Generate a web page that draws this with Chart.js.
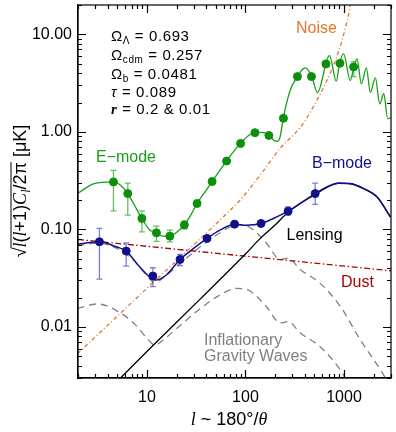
<!DOCTYPE html>
<html>
<head>
<meta charset="utf-8">
<script src="https://cdn.jsdelivr.net/npm/chart.js@4.4.1/dist/chart.umd.min.js"></script>
<style>
  html, body { margin: 0; padding: 0; background: #fff; }
</style>
</head>
<body>
<canvas id="cmb" width="396" height="432"></canvas>
<script>
// Multipolos (l) y amplitudes [uK]
const xMin = 2, xMax = 3000;
const yMin = 0.003, yMax = 20;
const xTickValues = [10, 100, 1000];
const yTickValues = [0.01, 0.1, 1, 10];

// Curva teorica modo E
const eCurveL = [2, 2.91, 4.58, 5.4, 6.41, 7.49, 8.89, 10.65, 12.47, 14.45, 17.15, 20.06, 24.04, 27.86, 32.3, 38.7, 45.9, 55, 64.4, 74.6, 89.4, 106.1, 124.9, 147.2, 173.5, 195.1, 209.4, 224.5, 242.6, 284, 336.9, 403.6, 472.3, 538.5, 619.8, 649.5, 713.7, 835.1, 902, 990.6, 1159, 1264, 1357, 1501, 1687, 1852, 2083, 2304, 2532, 2780, 3032];
const eCurveV = [0.235, 0.295, 0.307, 0.284, 0.233, 0.177, 0.1296, 0.0993, 0.0923, 0.0854, 0.0854, 0.0938, 0.1114, 0.140, 0.1845, 0.2406, 0.3096, 0.404, 0.503, 0.617, 0.763, 0.910, 0.981, 0.988, 0.921, 0.819, 0.800, 0.885, 1.397, 2.656, 3.72, 4.53, 3.69, 2.52, 3.94, 4.98, 6.06, 3.31, 5.05, 6.30, 3.36, 4.71, 5.60, 3.11, 4.53, 2.55, 3.58, 1.94, 2.46, 1.365, 1.417];

// Puntos simulados modo E con barras de error
const ePointsL = [4.58, 6.40, 8.90, 12.5, 17.1, 24.0, 32.3, 45.9, 64.4, 89.3, 125, 173, 243, 337, 468, 656, 910, 1253];
const ePointsV = [0.307, 0.233, 0.1296, 0.0923, 0.0854, 0.1114, 0.1845, 0.310, 0.503, 0.762, 0.982, 0.920, 1.38, 3.69, 3.69, 4.98, 5.05, 4.64];
const eErrLo = [0.155, 0.140, 0.0945, 0.0754, 0.0747, 0.1014, 0.176, 0.297, 0.483, 0.735, 0.95, 0.89, 1.33, 3.55, 3.55, 4.8, 4.85, 3.69];
const eErrHi = [0.404, 0.299, 0.155, 0.108, 0.0984, 0.122, 0.193, 0.323, 0.523, 0.79, 1.015, 0.95, 1.43, 3.83, 3.83, 5.16, 5.25, 5.26];

// Curva modo B (total)
const bCurveL = [1.97, 3.3, 4.88, 6.17, 8.43, 11.09, 12.47, 15.76, 21.68, 28.32, 40.83, 55, 77.6, 102.8, 143.9, 191.9, 270.9, 510, 671, 881, 1159, 1583, 2168, 2962];
const bCurveV = [0.0703, 0.0747, 0.0664, 0.060, 0.0414, 0.0316, 0.0303, 0.0341, 0.0493, 0.0614, 0.0809, 0.0983, 0.1133, 0.1106, 0.1152, 0.1296, 0.1538, 0.2333, 0.2726, 0.2995, 0.2953, 0.2626, 0.2154, 0.1346];

const bPointsL = [3.30, 6.17, 11.5, 21.7, 40.8, 77.6, 144, 271, 510];
const bPointsV = [0.0747, 0.060, 0.0333, 0.0493, 0.0809, 0.1133, 0.1152, 0.1538, 0.233];
const bErrLo = [0.031, 0.042, 0.0259, 0.0425, 0.0775, 0.109, 0.111, 0.140, 0.181];
const bErrHi = [0.1024, 0.073, 0.0405, 0.0555, 0.0845, 0.118, 0.1195, 0.170, 0.299];

// Lensing
const lensL = [4, 5.4, 10, 34.5, 100, 144, 200, 271, 510, 881, 1159, 1583, 2168, 2962];
const lensV = [0.0022, 0.003, 0.0056, 0.0192, 0.056, 0.0824, 0.111, 0.150, 0.228, 0.297, 0.294, 0.262, 0.215, 0.134];

// Ruido
const noiseL = [1.97, 11.7, 57.3, 87.9, 140.6, 224.6, 359, 490, 671, 815, 955, 1159, 1260];
const noiseV = [0.0053, 0.0289, 0.1296, 0.1993, 0.359, 0.678, 1.11, 1.82, 3.36, 5.38, 8.62, 19.8, 35];

// Polvo
const dustL = [2, 3000];
const dustV = [0.079, 0.0377];

// Ondas gravitacionales r = 0.2 y r = 0.01
const gwHighL = [1.97, 3.15, 5.40, 7.67, 10.17, 11.98, 15.5, 21.53, 34.42, 55, 81.3, 111.1, 164.4, 224.5, 270.9, 359.1, 573.7, 917.3, 1466, 2343, 2697];
const gwHighV = [0.0680, 0.0725, 0.0610, 0.046, 0.0330, 0.0286, 0.0335, 0.0445, 0.066, 0.092, 0.1114, 0.1046, 0.0718, 0.0492, 0.0509, 0.0389, 0.0280, 0.01628, 0.00738, 0.00364, 0.00288];
const gwLowL = [1.97, 3.15, 5.40, 7.67, 10.17, 11.98, 15.5, 21.53, 34.42, 55, 81.3, 111.1, 164.4, 224.5, 270.9, 359.1, 573.7, 917.3, 1055];
const gwLowV = [0.01557, 0.01722, 0.01394, 0.01051, 0.00755, 0.00656, 0.00773, 0.01026, 0.01532, 0.02129, 0.02492, 0.02339, 0.01605, 0.01101, 0.01136, 0.00871, 0.00626, 0.00364, 0.00288];

const GREEN = "#17a017";
const GREEN_DARK = "#0c900c";
const NAVY = "#10108a";
const ORANGE = "#e0782c";
const DUSTRED = "#a00808";
const GREY = "#808080";
const FONT = "'Liberation Sans', Arial, sans-serif";

function pairs(xs, ys) {
  return xs.map((x, i) => ({ x: x, y: ys[i] }));
}

function line(data, color, extra) {
  return Object.assign({
    data: data, showLine: true, borderColor: color, borderWidth: 1.3,
    pointRadius: 0, pointHoverRadius: 0, fill: false
  }, extra || {});
}

function fontOf(p) {
  return (p.style || "") + " " + p.size + "px " + (p.family || FONT);
}

// texto con sub-indices, dibujado por piezas
function richText(ctx, parts, x, y, align) {
  const widths = parts.map(p => { ctx.font = fontOf(p); return ctx.measureText(p.t).width; });
  const total = widths.reduce((a, b) => a + b, 0);
  let cx = align === "center" ? x - total / 2 : x;
  const x0 = cx;
  parts.forEach((p, i) => {
    ctx.font = fontOf(p);
    ctx.fillText(p.t, cx, y + (p.dy || 0));
    cx += widths[i];
  });
  return { x0: x0, w: total, widths: widths };
}

function logTicks(min, max) {
  const out = [];
  for (let e = Math.floor(Math.log10(min)); e <= Math.ceil(Math.log10(max)); e++) {
    for (let m = 1; m <= 9; m++) {
      const v = m * Math.pow(10, e);
      if (v >= min * 0.999 && v <= max * 1.001) out.push({ v: v, major: m === 1 });
    }
  }
  return out;
}

// barras de error dibujadas justo antes de sus puntos
const errorBars = {
  id: "errorBars",
  beforeDatasetDraw(chart, args) {
    const ds = chart.data.datasets[args.index];
    if (!ds.errLo) return;
    const { ctx, scales: { x, y } } = chart;
    ctx.save();
    ctx.strokeStyle = ds.errColor;
    ctx.lineWidth = 1.3;
    ds.data.forEach((d, i) => {
      const px = x.getPixelForValue(d.x);
      const top = y.getPixelForValue(ds.errHi[i]);
      const bot = y.getPixelForValue(ds.errLo[i]);
      ctx.beginPath();
      ctx.moveTo(px, top); ctx.lineTo(px, bot);
      ctx.moveTo(px - 3, top); ctx.lineTo(px + 3, top);
      ctx.moveTo(px - 3, bot); ctx.lineTo(px + 3, bot);
      ctx.stroke();
    });
    ctx.restore();
  }
};

// marco con marcas hacia dentro en los cuatro lados, textos y titulos
const frameAndText = {
  id: "frameAndText",
  afterDraw(chart) {
    const { ctx, chartArea: a, scales: { x, y } } = chart;
    ctx.save();
    ctx.strokeStyle = "#000";
    ctx.lineWidth = 1.2;
    ctx.strokeRect(a.left, a.top, a.right - a.left, a.bottom - a.top);
    ctx.beginPath();
    logTicks(xMin, xMax).forEach(t => {
      const px = Math.round(x.getPixelForValue(t.v)) + 0.5;
      const len = t.major ? 8 : 4;
      ctx.moveTo(px, a.bottom); ctx.lineTo(px, a.bottom - len);
      ctx.moveTo(px, a.top); ctx.lineTo(px, a.top + len);
    });
    logTicks(yMin, yMax).forEach(t => {
      const py = Math.round(y.getPixelForValue(t.v)) + 0.5;
      const len = t.major ? 8 : 4;
      ctx.moveTo(a.left, py); ctx.lineTo(a.left + len, py);
      ctx.moveTo(a.right, py); ctx.lineTo(a.right - len, py);
    });
    ctx.stroke();

    // parametros cosmologicos
    ctx.fillStyle = "#000";
    ctx.textBaseline = "alphabetic";
    ctx.letterSpacing = "0.6px";
    const S = 15, s = 10;
    richText(ctx, [{ t: "\u03A9", size: S }, { t: "\u039B", size: s, dy: 3 }, { t: " = 0.693", size: S }], 111, 41, "left");
    richText(ctx, [{ t: "\u03A9", size: S }, { t: "cdm", size: s, dy: 3 }, { t: " = 0.257", size: S }], 111, 60, "left");
    richText(ctx, [{ t: "\u03A9", size: S }, { t: "b", size: s, dy: 3 }, { t: " = 0.0481", size: S }], 111, 78.5, "left");
    richText(ctx, [{ t: "\u03C4", size: S, style: "italic" }, { t: " = 0.089", size: S }], 111, 96.5, "left");
    richText(ctx, [{ t: "r", size: S, style: "italic bold", family: "'Liberation Serif', serif" }, { t: " = 0.2 & 0.01", size: S }], 111, 114, "left");
    ctx.letterSpacing = "0px";

    // etiquetas de curvas
    ctx.textBaseline = "middle";
    ctx.font = "16px " + FONT;
    const lbl = (t, c, cx, cy) => { ctx.fillStyle = c; ctx.textAlign = "center"; ctx.fillText(t, cx, cy); };
    lbl("Noise", ORANGE, 316.5, 29);
    lbl("E\u2212mode", GREEN, 126, 157.5);
    lbl("B\u2212mode", NAVY, 342, 164);
    lbl("Lensing", "#000", 314.5, 235.5);
    lbl("Dust", DUSTRED, 357.5, 283);
    ctx.fillStyle = GREY;
    ctx.textAlign = "left";
    ctx.fillText("Inflationary", 204, 341);
    ctx.fillText("Gravity Waves", 204, 357);

    // titulo eje x
    ctx.fillStyle = "#000";
    ctx.textAlign = "left";
    ctx.textBaseline = "alphabetic";
    richText(ctx, [
      { t: "l", size: 18, style: "italic", family: "'Liberation Serif', serif" },
      { t: " ~ 180\u00B0/", size: 18 },
      { t: "\u03B8", size: 18, style: "italic", family: "'Liberation Serif', serif" }
    ], 229, 425, "center");

    // titulo eje y (rotado)
    ctx.translate(26, 191);
    ctx.rotate(-Math.PI / 2);
    const it = { style: "italic", family: "'Liberation Serif', serif" };
    const parts = [
      { t: "\u221A", size: 18 },
      Object.assign({ t: "l", size: 18 }, it),
      { t: "(", size: 18 },
      Object.assign({ t: "l", size: 18 }, it),
      { t: "+1)", size: 18 },
      Object.assign({ t: "C", size: 18 }, it),
      Object.assign({ t: "l", size: 12, dy: 4 }, it),
      { t: "/2\u03C0", size: 18 },
      { t: " [\u03BCK]", size: 18 }
    ];
    const r = richText(ctx, parts, 0, 0, "center");
    const barStart = r.x0 + r.widths[0] - 1;
    const barEnd = r.x0 + r.widths.slice(0, 8).reduce((a, b) => a + b, 0);
    ctx.beginPath();
    ctx.lineWidth = 1;
    ctx.moveTo(barStart, -15); ctx.lineTo(barEnd, -15);
    ctx.stroke();
    ctx.restore();
  }
};

new Chart(document.getElementById("cmb"), {
  type: "scatter",
  data: {
    datasets: [
      { data: pairs(ePointsL, ePointsV), backgroundColor: GREEN_DARK, borderColor: GREEN_DARK, pointRadius: 4,
        errLo: eErrLo, errHi: eErrHi, errColor: "rgba(40,160,40,0.7)", order: 0 },
      { data: pairs(bPointsL, bPointsV), backgroundColor: NAVY, borderColor: NAVY, pointRadius: 4,
        errLo: bErrLo, errHi: bErrHi, errColor: "rgba(70,70,200,0.7)", order: 0 },
      line(pairs(eCurveL, eCurveV), GREEN, { cubicInterpolationMode: "monotone", order: 2 }),
      line(pairs(bCurveL, bCurveV), NAVY, { cubicInterpolationMode: "monotone", borderWidth: 1.5, order: 2 }),
      line(pairs(lensL, lensV), "#000", { cubicInterpolationMode: "monotone", order: 3 }),
      line(pairs(noiseL, noiseV), ORANGE, { cubicInterpolationMode: "monotone", borderDash: [4, 2.5, 1, 2.5], order: 4 }),
      line(pairs(dustL, dustV), DUSTRED, { borderDash: [6, 2.5, 1.5, 2.5], order: 4 }),
      line(pairs(gwHighL, gwHighV), GREY, { cubicInterpolationMode: "monotone", borderDash: [7, 5], order: 5 }),
      line(pairs(gwLowL, gwLowV), GREY, { cubicInterpolationMode: "monotone", borderDash: [7, 5], order: 5 })
    ]
  },
  options: {
    responsive: false,
    animation: false,
    devicePixelRatio: 1,
    layout: { padding: { top: 5, right: 5, left: 0, bottom: 0 } },
    plugins: { legend: { display: false }, tooltip: { enabled: false } },
    scales: {
      x: {
        type: "logarithmic", min: xMin, max: xMax,
        grid: { display: false, drawTicks: false },
        border: { display: true, color: "#000", width: 1.2 },
        afterBuildTicks: (s) => { s.ticks = xTickValues.map(v => ({ value: v })); },
        afterFit: (s) => { s.height = 54; s.paddingLeft = 0; s.paddingRight = 0; },
        ticks: { color: "#000", padding: 10, maxRotation: 0, autoSkip: false,
          font: { family: FONT, size: 16 }, callback: (v) => String(v) }
      },
      y: {
        type: "logarithmic", min: yMin, max: yMax,
        grid: { display: false, drawTicks: false },
        border: { display: true, color: "#000", width: 1.2 },
        afterBuildTicks: (s) => { s.ticks = yTickValues.map(v => ({ value: v })); },
        afterFit: (s) => { s.width = 78; s.paddingTop = 0; s.paddingBottom = 0; },
        ticks: { color: "#000", padding: 6, autoSkip: false,
          font: { family: FONT, size: 16 }, callback: (v) => Number(v).toFixed(2) }
      }
    }
  },
  plugins: [errorBars, frameAndText]
});
</script>
</body>
</html>
